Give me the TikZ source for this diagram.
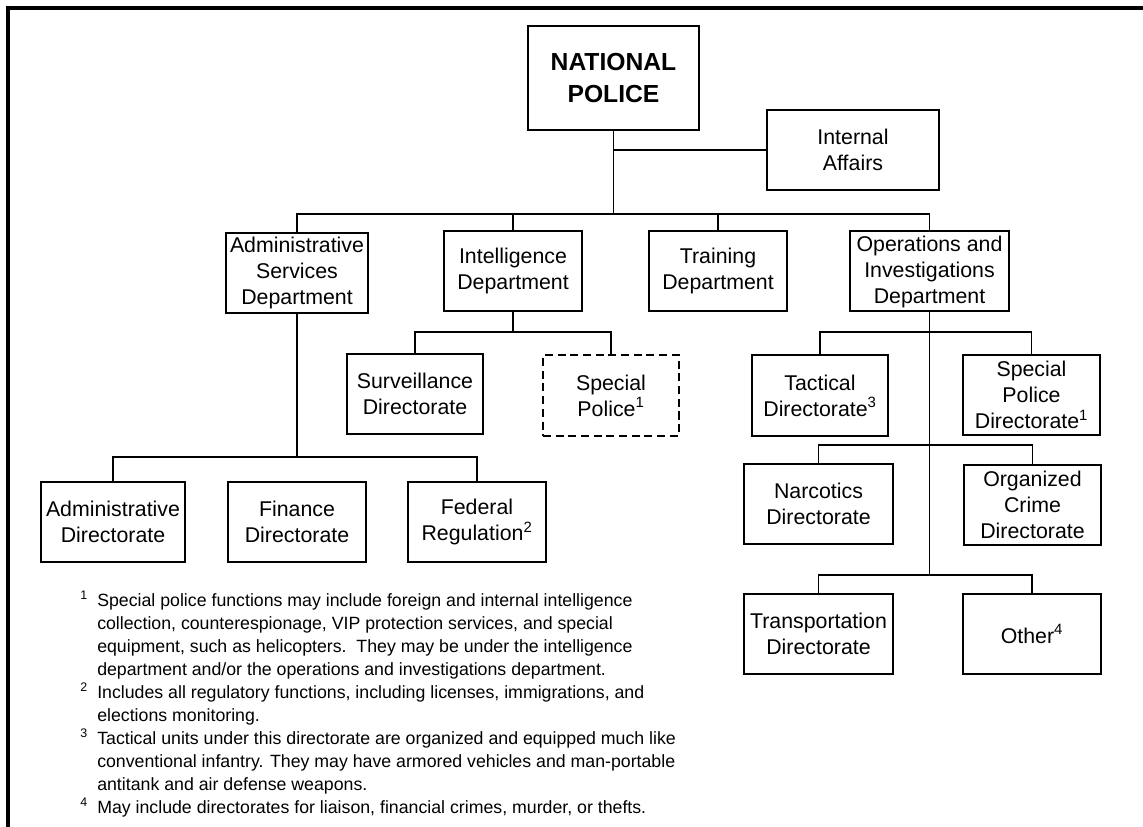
\documentclass[tikz,border=0pt]{standalone}
\usepackage{fontspec}
\setmainfont{Liberation Sans}
\usepackage{tikz}

\begin{document}
\begin{tikzpicture}[x=0.75pt,y=-0.75pt,
  unit/.style={draw,line width=1.5pt,inner sep=0pt,align=center,
    font=\fontsize{16}{19.5}\selectfont,minimum height=60pt},
  link/.style={line width=1.3pt},
  note/.style={inner sep=0pt,align=left,font=\fontsize{13.3}{17.25}\selectfont}]
\useasboundingbox (0,0) rectangle (1143,827);
\draw [line width=3pt] (1143,8) -- (8,8) -- (8,827);

\node[unit,minimum width=128pt,minimum height=78pt,
  font=\bfseries\fontsize{18.5}{24}\selectfont] (np) at (613.5,78) {NATIONAL\\POLICE};
\node[unit,minimum width=129pt] (ia) at (853,150) {Internal\\Affairs};

\node[unit,minimum width=106.5pt] (asd) at (297,273) {Administrative\\Services\\Department};
\node[unit,minimum width=103.5pt] (intd) at (513,271) {Intelligence\\Department};
\node[unit,minimum width=103.5pt] (trd) at (718,271) {Training\\Department};
\node[unit,minimum width=119pt] (oid) at (929.5,271.5) {Operations and\\Investigations\\Department};

\node[unit,minimum width=102pt] (sur) at (415,394) {Surveillance\\Directorate};
\node[unit,minimum width=102pt,dash pattern=on 6pt off 3.5pt] (sp) at (611,395.5) {Special\\Police\textsuperscript{1}};
\node[unit,minimum width=102pt] (tac) at (820,395.5) {Tactical\\Directorate\textsuperscript{3}};
\node[unit,minimum width=103pt] (spd) at (1031.5,395) {Special\\Police\\Directorate\textsuperscript{1}};

\node[unit,minimum width=112pt] (nar) at (818.5,503.5) {Narcotics\\Directorate};
\node[unit,minimum width=103pt] (org) at (1032.5,504.5) {Organized\\Crime\\Directorate};
\node[unit,minimum width=112pt] (tra) at (818.5,634) {Transportation\\Directorate};
\node[unit,minimum width=103.5pt] (oth) at (1032,634) {Other\textsuperscript{4}};

\node[unit,minimum width=108pt] (add) at (113,522) {Administrative\\Directorate};
\node[unit,minimum width=103.5pt] (fin) at (297,522) {Finance\\Directorate};
\node[unit,minimum width=103.5pt] (fed) at (477,522) {Federal\\Regulation\textsuperscript{2}};

\coordinate (b0) at (0,214);
\coordinate (b1) at (0,332);
\coordinate (b2) at (0,445);
\coordinate (b3) at (0,575);
\coordinate (b4) at (0,457);

\draw[link] (np.south) -- (np.south |- b0);
\draw[link] (np.south |- ia.west) -- (ia.west);
\draw[link] (asd.north) |- (oid.north |- b0) -- (oid.north);
\draw[link] (intd.north) -- (intd.north |- b0);
\draw[link] (trd.north) -- (trd.north |- b0);
\draw[link] (intd.south) -- (intd.south |- b1);
\draw[link] (sur.north) |- (sp.north |- b1) -- (sp.north);
\draw[link] (oid.south) -- (oid.south |- b3);
\draw[link] (tac.north) |- (spd.north |- b1) -- (spd.north);
\draw[link] (nar.north) |- (org.north |- b2) -- (org.north);
\draw[link] (tra.north) |- (oth.north |- b3) -- (oth.north);
\draw[link] (asd.south) -- (asd.south |- b4);
\draw[link] (add.north) |- (fed.north |- b4) -- (fed.north);

\node[note,anchor=north west] (fn) at (97,591) {%
\llap{\textsuperscript{1}\hspace{7pt}}Special police functions may include foreign and internal intelligence\\
collection, counterespionage, VIP protection services, and special\\
equipment, such as helicopters.\ \ They may be under the intelligence\\
department and/or the operations and investigations department.\\
\llap{\textsuperscript{2}\hspace{7pt}}Includes all regulatory functions, including licenses, immigrations, and\\
elections monitoring.\\
\llap{\textsuperscript{3}\hspace{7pt}}Tactical units under this directorate are organized and equipped much like\\
conventional infantry. They may have armored vehicles and man-portable\\
antitank and air defense weapons.\\
\llap{\textsuperscript{4}\hspace{7pt}}May include directorates for liaison, financial crimes, murder, or thefts.};
\end{tikzpicture}
\end{document}
